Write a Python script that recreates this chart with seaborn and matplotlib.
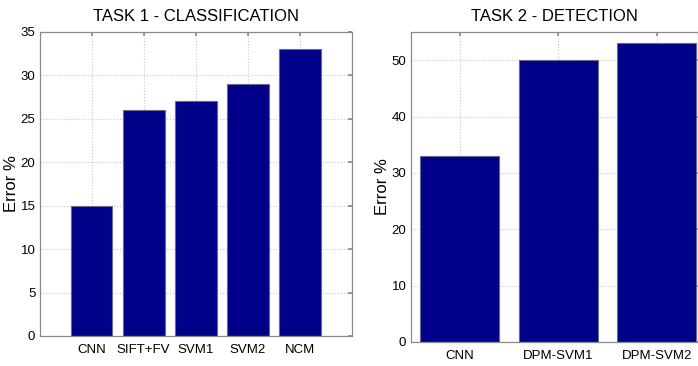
import numpy as np
import pandas as pd
import seaborn as sns
import matplotlib.pyplot as plt

# данные
task1_methods = ["CNN", "SIFT+FV", "SVM1", "SVM2", "NCM"]
task1_error = [15, 26, 27, 29, 33]
task2_methods = ["CNN", "DPM-SVM1", "DPM-SVM2"]
task2_error = [33, 50, 53]

sns.set_theme(style="white")
plt.rcParams["font.family"] = ["Liberation Sans", "DejaVu Sans"]
plt.rcParams["text.color"] = "black"
plt.rcParams["axes.labelcolor"] = "black"
plt.rcParams["xtick.color"] = "black"
plt.rcParams["ytick.color"] = "black"

bar_color = "#000088"
grid_kw = dict(color="#c8c8c8", linestyle=":", linewidth=0.8)

fig = plt.figure(figsize=(6.98, 3.66), dpi=100)
ax1 = fig.add_axes([39.5 / 698, (366 - 336) / 366, (352 - 39.5) / 698, (336 - 32) / 366])
ax2 = fig.add_axes([410.5 / 698, (366 - 342) / 366, (698 - 410.5) / 698, (342 - 32) / 366])

df1 = pd.DataFrame({"method": task1_methods, "error": task1_error})
df2 = pd.DataFrame({"method": task2_methods, "error": task2_error})

sns.barplot(data=df1, x="method", y="error", color=bar_color, width=0.8,
            edgecolor="#6a6a8a", linewidth=0.8, saturation=1, ax=ax1)
sns.barplot(data=df2, x="method", y="error", color=bar_color, width=0.8,
            edgecolor="#6a6a8a", linewidth=0.8, saturation=1, ax=ax2)

ax1.set_xlim(-1, 5)
ax1.set_ylim(0, 35)
ax1.set_yticks(np.arange(0, 36, 5))
ax1.set_title("TASK 1 - CLASSIFICATION", fontsize=12, pad=8)

ax2.set_xlim(-0.5, 2.42)
ax2.set_ylim(0, 55)
ax2.set_yticks(np.arange(0, 51, 10))
ax2.set_title("TASK 2 - DETECTION", fontsize=12, pad=8)

for ax in (ax1, ax2):
    ax.set_xlabel("")
    ax.set_ylabel("Error %", fontsize=12)
    ax.set_axisbelow(True)
    ax.grid(True, **grid_kw)
    for s in ax.spines.values():
        s.set_color("#8a8a8a")
        s.set_linewidth(0.9)
    ax.tick_params(direction="in", length=3, color="#8a8a8a", labelcolor="black",
                   labelsize=9.5, top=True, right=True, pad=3)
    ax.tick_params(axis="x", pad=6)

ax1.yaxis.set_label_coords(-0.066, 0.5)
ax2.yaxis.set_label_coords(-0.07, 0.5)

plt.savefig("out.png", dpi=100)
plt.close()
